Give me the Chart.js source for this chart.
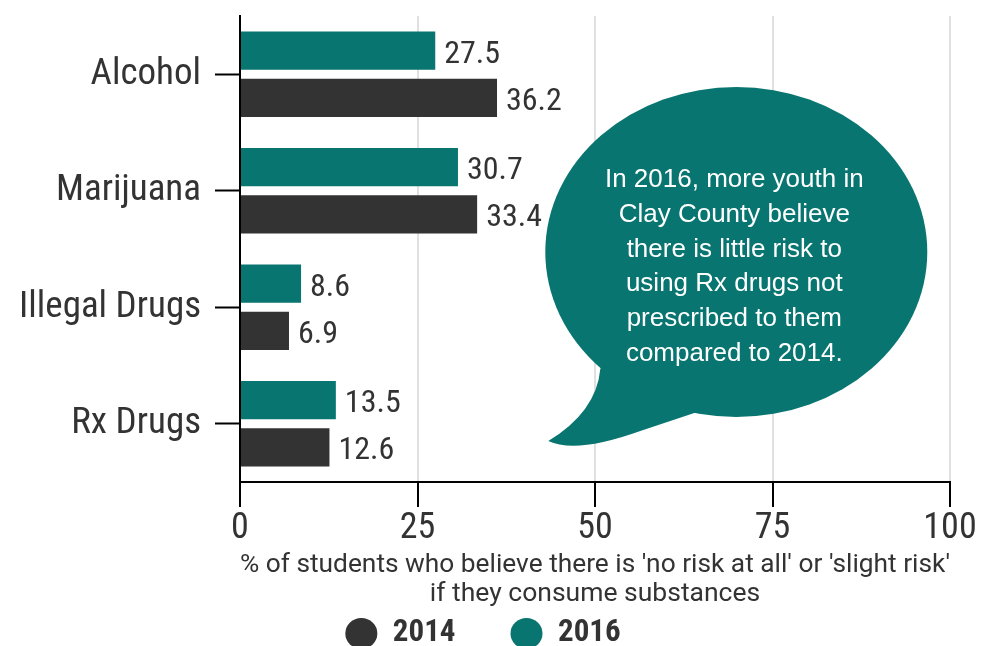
<!DOCTYPE html>
<html>
<head>
<meta charset="utf-8">
<script src="https://cdn.jsdelivr.net/npm/chart.js@4"></script>
<style>
  html, body { margin: 0; padding: 0; background: #fff; overflow: hidden; }
  #wrap { position: relative; width: 996px; height: 659px; }
</style>
</head>
<body>
<div id="wrap"><canvas id="myChart"></canvas></div>
<script>
"use strict";

// data
const categories = ["Alcohol", "Marijuana", "Illegal Drugs", "Rx Drugs"];
const values2016 = [27.5, 30.7, 8.6, 13.5];
const values2014 = [36.2, 33.4, 6.9, 12.6];
const xTicks = [0, 25, 50, 75, 100];
const axisTitle = [
    "% of students who believe there is 'no risk at all' or 'slight risk'",
    "if they consume substances"
];
const bubbleText = [
    "In 2016, more youth in",
    "Clay County believe",
    "there is little risk to",
    "using Rx drugs not",
    "prescribed to them",
    "compared to 2014."
];

const teal = "#087570";
const dark = "#333333";
const cond = "'Roboto Condensed', Roboto, 'Liberation Sans Narrow', sans-serif";

Chart.defaults.font.family = cond;
Chart.defaults.color = "#333";

// value labels at the end of each bar
const barLabels = {
    id: "barLabels",
    afterDatasetsDraw(chart) {
        const ctx = chart.ctx;
        ctx.save();
        ctx.font = "condensed 32px " + cond;
        ctx.fillStyle = "#333";
        ctx.textBaseline = "middle";
        ctx.textAlign = "left";
        chart.data.datasets.forEach((ds, i) => {
            chart.getDatasetMeta(i).data.forEach((bar, j) => {
                ctx.fillText(ds.data[j].toFixed(1), bar.x + 9, bar.y + 4);
            });
        });
        ctx.restore();
    }
};

// speech bubble note
const bubble = {
    id: "bubble",
    afterDatasetsDraw(chart) {
        const ctx = chart.ctx;
        const x = chart.scales.x;
        const y = chart.scales.y;
        const cx = x.getPixelForValue(69.9);
        const cy = (y.getPixelForValue(1) + y.getPixelForValue(2)) / 2 + 3;
        ctx.save();
        ctx.fillStyle = teal;
        ctx.beginPath();
        ctx.ellipse(cx, cy, 191, 165, 0, 0, Math.PI * 2);
        ctx.fill();
        // tail
        ctx.beginPath();
        ctx.moveTo(cx - 116, cy + 87);
        ctx.lineTo(cx - 136, cy + 117);
        ctx.quadraticCurveTo(cx - 140, cy + 160, cx - 188, cy + 189);
        ctx.quadraticCurveTo(cx - 160, cy + 202, cx - 96, cy + 179);
        ctx.lineTo(cx - 36, cy + 159);
        ctx.lineTo(cx - 36, cy + 120);
        ctx.closePath();
        ctx.fill();
        ctx.fillStyle = "#fff";
        ctx.font = "26px 'Liberation Sans', Arial, sans-serif";
        ctx.textAlign = "center";
        ctx.textBaseline = "alphabetic";
        bubbleText.forEach((line, i) => {
            ctx.fillText(line, cx - 2, cy - 65 + i * 34.8);
        });
        ctx.restore();
    }
};

const ctx = document.getElementById("myChart").getContext("2d");
new Chart(ctx, {
    type: "bar",
    data: {
        labels: categories,
        datasets: [{
            label: "2016",
            data: values2016,
            backgroundColor: teal,
            borderWidth: 0,
            categoryPercentage: 0.81,
            barPercentage: 0.81
        }, {
            label: "2014",
            data: values2014,
            backgroundColor: dark,
            borderWidth: 0,
            categoryPercentage: 0.81,
            barPercentage: 0.81
        }]
    },
    options: {
        indexAxis: "y",
        responsive: true,
        maintainAspectRatio: false,
        animation: false,
        layout: { padding: { top: 16, right: 46, left: 16, bottom: 0 } },
        scales: {
            x: {
                min: 0,
                max: 100,
                afterBuildTicks: s => { s.ticks = xTicks.map(v => ({ value: v })); },
                grid: {
                    color: c => (c.tick && c.tick.value === 0) ? "rgba(0,0,0,0)" : "#e0e0e0",
                    lineWidth: 2,
                    tickColor: "#000",
                    tickLength: 25,
                    tickWidth: 2
                },
                border: { color: "#000", width: 2 },
                ticks: {
                    font: { size: 36, weight: "condensed" },
                    color: "#333",
                    padding: 0,
                    maxRotation: 0
                },
                title: {
                    display: true,
                    text: axisTitle,
                    font: { size: 26.5, lineHeight: 1.1, family: "Roboto, sans-serif" },
                    color: "#333",
                    padding: { top: 0, bottom: -46 }
                },
                afterFit: s => { s.height = 81; }
            },
            y: {
                grid: {
                    drawOnChartArea: false,
                    offset: false,
                    tickColor: "#000",
                    tickLength: 25,
                    tickWidth: 2
                },
                border: { color: "#000", width: 2 },
                ticks: {
                    font: { size: 37, weight: "condensed" },
                    color: "#333",
                    padding: 14
                },
                afterFit: s => {
                    s.width = 224;
                    s.paddingTop = 0;
                    s.paddingBottom = 0;
                }
            }
        },
        plugins: {
            legend: {
                position: "bottom",
                labels: {
                    usePointStyle: true,
                    pointStyle: "circle",
                    pointStyleWidth: 32,
                    boxHeight: 22,
                    padding: 55,
                    color: "#333",
                    font: { size: 31, weight: "bold condensed" },
                    sort: (a, b) => b.datasetIndex - a.datasetIndex
                }
            },
            tooltip: { enabled: false }
        }
    },
    plugins: [barLabels, bubble]
});
</script>
</body>
</html>
